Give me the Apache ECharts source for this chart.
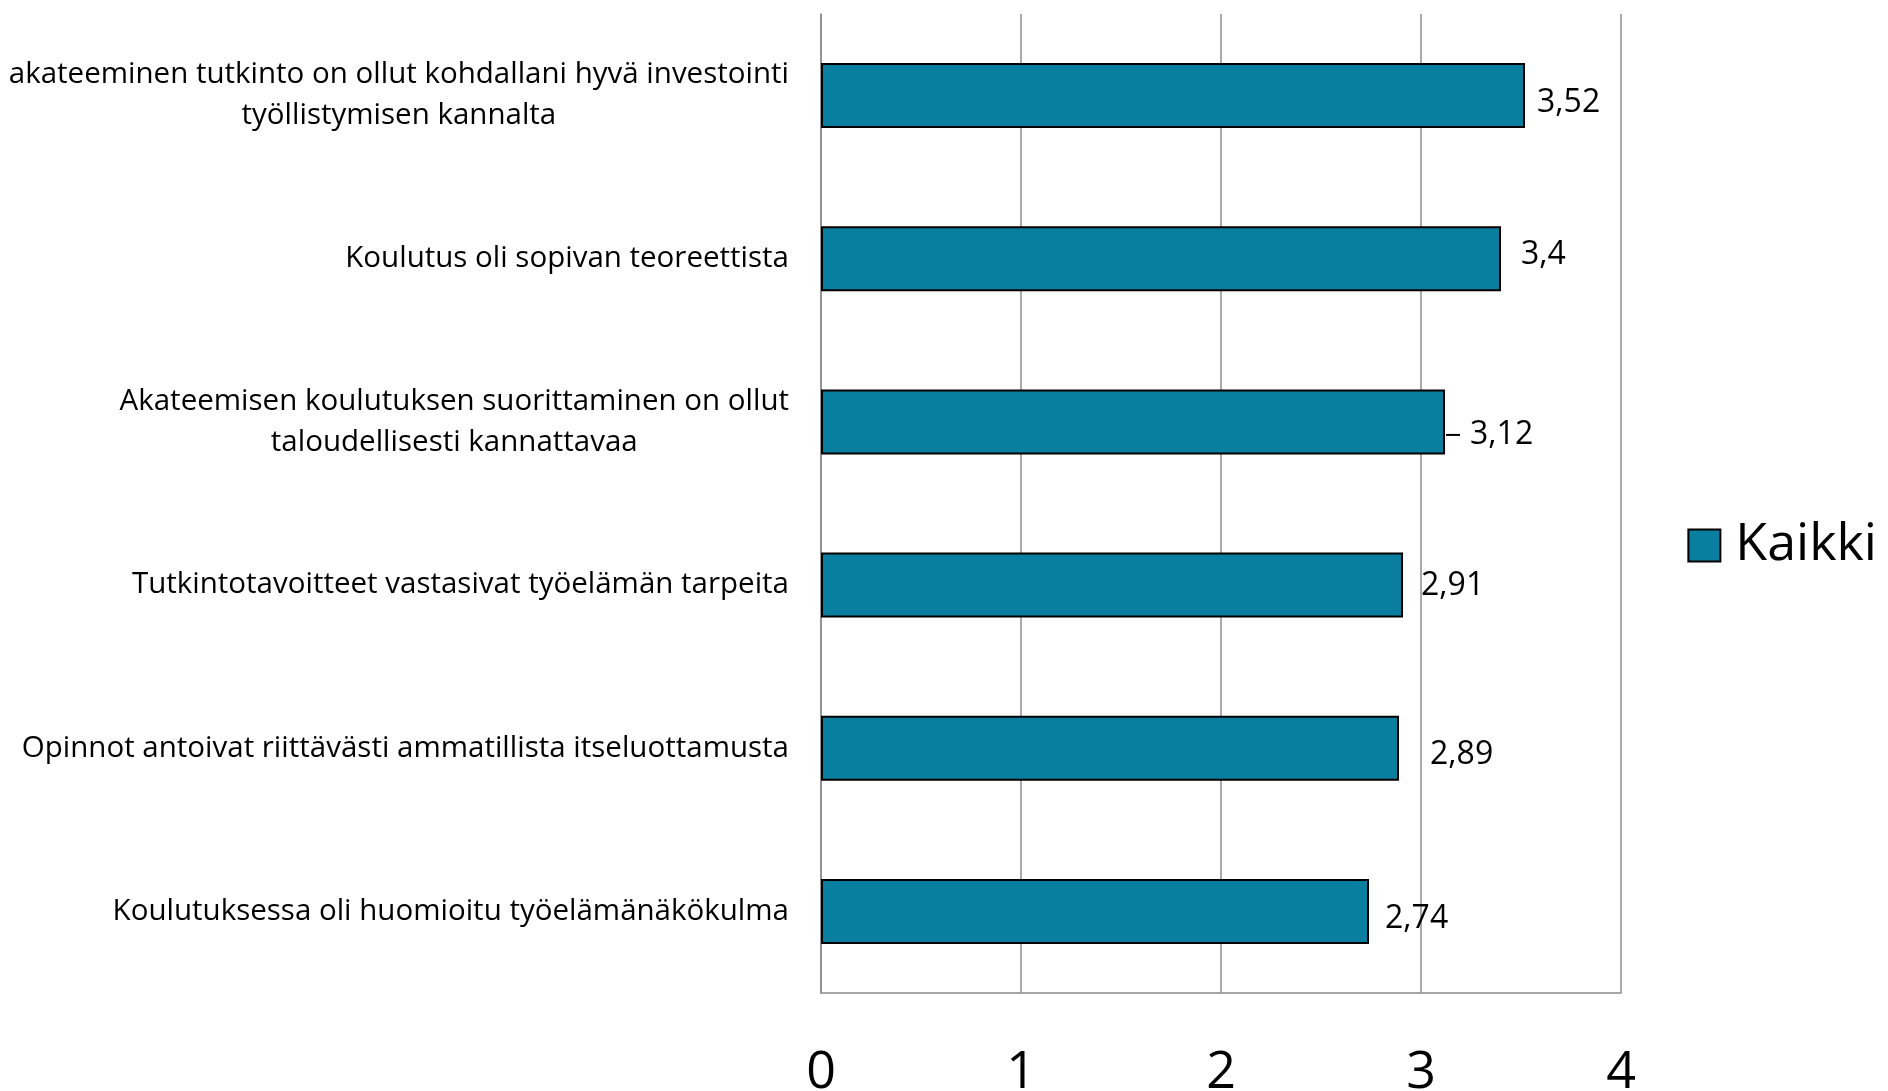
<!DOCTYPE html>
<html>
<head>
<meta charset="utf-8">
<script src="https://cdn.jsdelivr.net/npm/echarts@6/dist/echarts.min.js"></script>
<style>
  html, body { margin: 0; padding: 0; background: #fff; }
  #chart { width: 1888px; height: 1091px; }
</style>
</head>
<body>
<div id="chart"></div>
<script>
// väittämät ylhäältä alas
var categories = [
  'akateeminen tutkinto on ollut kohdallani hyvä investointi\ntyöllistymisen kannalta',
  'Koulutus oli sopivan teoreettista',
  'Akateemisen koulutuksen suorittaminen on ollut\ntaloudellisesti kannattavaa',
  'Tutkintotavoitteet vastasivat työelämän tarpeita',
  'Opinnot antoivat riittävästi ammatillista itseluottamusta',
  'Koulutuksessa oli huomioitu työelämänäkökulma'
]
var kaikki = [3.52, 3.4, 3.12, 2.91, 2.89, 2.74]
var xTicks = [0, 1, 2, 3, 4]

// label nudges like in the original excel chart
var labelOffsets = [[12, 7], [20, -4], [1, 13], [18, 1], [31, 7], [16, 7]]
var leaderIdx = 2  // this one had a leader line

var chart = echarts.init(document.getElementById('chart'))

chart.setOption({
  animation: false,
  textStyle: { fontFamily: 'Open Sans' },
  grid: { left: 821, right: 267, top: 14, bottom: 98, outerBoundsMode: 'none' },
  legend: {
    right: 6,
    top: 'middle',
    orient: 'vertical',
    icon: 'rect',
    itemWidth: 32,
    itemHeight: 32,
    itemStyle: { borderColor: '#000', borderWidth: 2 },
    textStyle: { fontSize: 52, color: '#000', fontFamily: 'Open Sans', padding: [0, 0, 0, 10] },
    data: ['Kaikki']
  },
  xAxis: {
    type: 'value',
    min: xTicks[0],
    max: xTicks[xTicks.length - 1],
    interval: 1,
    axisLine: { show: true, lineStyle: { color: '#8c8c8c', width: 1.5 } },
    axisTick: { show: false },
    splitLine: { lineStyle: { color: '#8c8c8c', width: 1.5 } },
    axisLabel: {
      margin: 54,
      fontSize: 52,
      color: '#000',
      formatter: function (v) { return xTicks.indexOf(v) >= 0 ? String(v) : '' }
    }
  },
  yAxis: {
    type: 'category',
    inverse: true,
    data: categories,
    axisLine: { show: true, lineStyle: { color: '#8c8c8c', width: 1.5 } },
    axisTick: { show: false },
    axisLabel: {
      margin: 32,
      formatter: function (s) {
        return s.split('\n').map(function (l) { return '{c|' + l + '}' }).join('\n')
      },
      rich: {
        c: { fontSize: 29.5, lineHeight: 41, color: '#000', align: 'center', fontFamily: 'Open Sans' }
      }
    }
  },
  series: [{
    name: 'Kaikki',
    type: 'bar',
    barWidth: 65,
    itemStyle: { color: '#0a7e9e', borderColor: '#000', borderWidth: 2 },
    data: kaikki.map(function (v, i) {
      return { value: v, label: { offset: labelOffsets[i] } }
    }),
    label: {
      show: true,
      position: 'right',
      distance: 0,
      fontSize: 32,
      color: '#000',
      formatter: function (p) {
        var t = String(p.value).replace('.', ',')
        return p.dataIndex === leaderIdx ? '{l|}{g|}{v|' + t + '}' : '{v|' + t + '}'
      },
      rich: {
        v: { fontSize: 32, color: '#000', fontFamily: 'Open Sans' },
        l: { width: 14, height: 2, backgroundColor: '#000' },
        g: { width: 10 }
      }
    }
  }]
})
</script>
</body>
</html>
